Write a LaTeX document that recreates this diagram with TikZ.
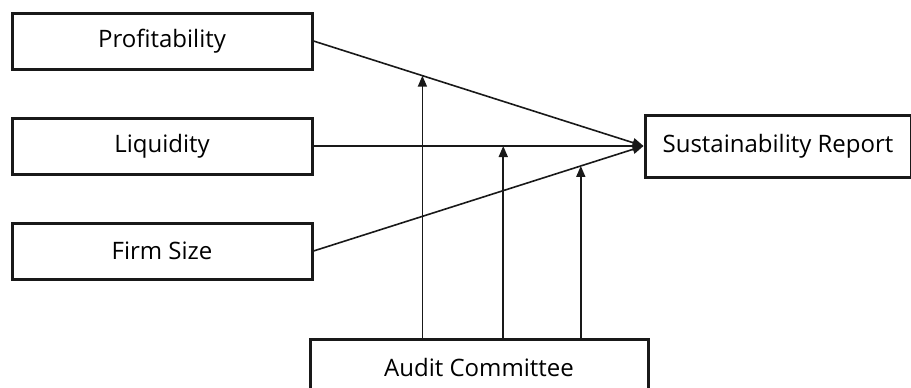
\documentclass[tikz,border=0pt]{standalone}
\usepackage{fontspec}
\setmainfont{Open Sans}
\usetikzlibrary{arrows.meta,positioning,calc}

\begin{document}
\begin{tikzpicture}[
    x=0.5pt, y=-0.5pt,
    varnode/.style={rectangle, draw=black!90, line width=1.5pt, minimum height=28pt, minimum width=150pt, font=\fontsize{12}{14}\selectfont},
    depnode/.style={varnode, minimum height=31pt, minimum width=133pt},
    modnode/.style={varnode, minimum height=28pt, minimum width=169pt},
    link/.style={line width=0.8pt, black!90, -{Triangle[length=5.5pt,width=4.5pt]}},
    node distance=23pt
    ]
    \useasboundingbox (0,0) rectangle (911,387);

    %Nodes
    \node[varnode] (profit)  at (162,41)            {Profitability};
    \node[varnode] (liquid)  [below=of profit]      {Liquidity};
    \node[varnode] (size)    [below=of liquid]      {Firm Size};
    \node[depnode] (report)  [right=165pt of liquid] {Sustainability Report};
    \node[modnode] (audit)   at (479,367)           {Audit Committee};

    %Lines
    \draw[link] (profit.east) -- coordinate[pos=0.33] (mod1) (report.west);
    \draw[link] (liquid.east) -- coordinate[pos=0.575] (mod2) (report.west);
    \draw[link] (size.east)   -- coordinate[pos=0.81] (mod3) (report.west);
    \draw[link] (mod1 |- audit.north) -- (mod1);
    \draw[link] (mod2 |- audit.north) -- (mod2);
    \draw[link] (mod3 |- audit.north) -- (mod3);
\end{tikzpicture}
\end{document}
